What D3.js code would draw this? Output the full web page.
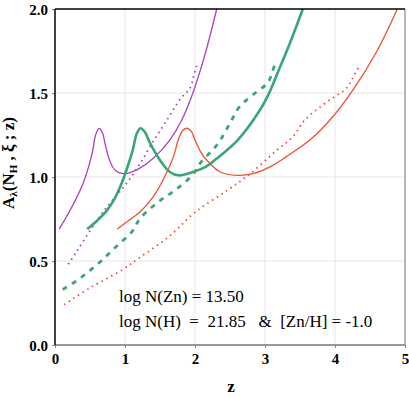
<!DOCTYPE html>
<html lang="en">
  <head>
    <meta charset="UTF-8" />
    <title>A lambda vs z</title>
    <style>
      body { margin: 0; background: #fff; }
      svg { display: block; font-family: "Liberation Serif", "Times New Roman", Times, serif; }
      .tick text { font-family: "Liberation Serif", "Times New Roman", Times, serif; font-weight: bold; font-size: 15px; fill: #000; }
      .grid line { stroke: #e6e6e6; stroke-width: 1; }
      .note { font-family: "Liberation Serif", "Times New Roman", Times, serif; font-size: 17px; fill: #000; }
      .lbl { font-family: "Liberation Serif", "Times New Roman", Times, serif; font-weight: bold; fill: #000; }
    </style>
  </head>
  <body>
    <svg width="409" height="397"></svg>

    <script src="https://d3js.org/d3.v7.min.js"></script>
    <script>
      // axis ticks
      const xTicks = [0, 1, 2, 3, 4, 5];
      const yTicks = [0, 0.5, 1, 1.5, 2];

      // curves: [z, A]
      const purpleSolid = [[0.06,0.69],[0.2,0.79],[0.3,0.87],[0.4,0.96],[0.48,1.06],[0.54,1.16],[0.58,1.25],[0.63,1.29],[0.68,1.26],[0.72,1.19],[0.78,1.1],[0.86,1.04],[1.0,1.02],[1.2,1.05],[1.4,1.11],[1.64,1.22],[1.8,1.33],[1.97,1.5],[2.15,1.74],[2.31,2.0]];
      const purpleDotted = [[0.19,0.48],[0.3,0.55],[0.5,0.68],[0.7,0.8],[0.9,0.9],[1.0,0.95],[1.2,1.07],[1.4,1.21],[1.6,1.34],[1.8,1.47],[1.93,1.53],[1.98,1.6],[2.03,1.67]];
      const greenSolid = [[0.46,0.69],[0.6,0.74],[0.74,0.8],[0.85,0.87],[0.93,0.94],[1.02,1.04],[1.11,1.16],[1.17,1.26],[1.22,1.29],[1.28,1.27],[1.36,1.2],[1.5,1.1],[1.64,1.03],[1.76,1.01],[1.97,1.03],[2.15,1.06],[2.31,1.11],[2.61,1.22],[2.93,1.4],[3.07,1.51],[3.2,1.64],[3.35,1.79],[3.54,2.0]];
      const greenDashed = [[0.11,0.33],[0.3,0.38],[0.46,0.43],[0.66,0.5],[0.86,0.58],[1.11,0.68],[1.21,0.75],[1.47,0.85],[1.71,0.92],[1.96,1.01],[2.07,1.08],[2.33,1.2],[2.5,1.32],[2.64,1.42],[2.89,1.51],[3.04,1.56],[3.1,1.62],[3.14,1.67]];
      const redSolid = [[0.89,0.69],[1.05,0.74],[1.21,0.79],[1.4,0.88],[1.6,1.03],[1.7,1.13],[1.76,1.22],[1.83,1.28],[1.89,1.29],[1.95,1.27],[2.0,1.22],[2.08,1.15],[2.17,1.1],[2.36,1.03],[2.6,1.01],[2.83,1.02],[3.07,1.06],[3.3,1.12],[3.64,1.22],[3.95,1.35],[4.26,1.52],[4.6,1.75],[4.89,2.0]];
      const redDotted = [[0.13,0.24],[0.5,0.34],[0.97,0.45],[1.21,0.52],[1.64,0.65],[2.0,0.79],[2.46,0.92],[2.79,1.02],[3.17,1.16],[3.4,1.24],[3.57,1.34],[3.93,1.46],[4.17,1.53],[4.24,1.58],[4.33,1.65]];

      const mLeft = 55, mRight = 405, mTop = 9, mBottom = 345;

      const svg = d3.select("svg");

      const x = d3.scaleLinear().domain([0, 5]).range([mLeft, mRight]);
      const y = d3.scaleLinear().domain([0, 2]).range([mBottom, mTop]);

      // gridlines
      svg.append("g").attr("class", "grid")
        .selectAll("line").data(xTicks.slice(1, -1)).enter().append("line")
        .attr("x1", d => x(d)).attr("x2", d => x(d))
        .attr("y1", mTop).attr("y2", mBottom);
      svg.append("g").attr("class", "grid")
        .selectAll("line").data(yTicks.slice(1, -1)).enter().append("line")
        .attr("y1", d => y(d)).attr("y2", d => y(d))
        .attr("x1", mLeft).attr("x2", mRight);

      // curves
      const line = d3.line().x(d => x(d[0])).y(d => y(d[1])).curve(d3.curveCatmullRom.alpha(0.5));
      const plot = svg.append("g");
      const curves = [
        { data: purpleSolid, color: "#a93fc0", width: 1.3, dash: null },
        { data: purpleDotted, color: "#a93fc0", width: 1.8, dash: "1.5,4" },
        { data: redDotted, color: "#f0502d", width: 1.8, dash: "1.5,4" },
        { data: greenDashed, color: "#3aa57a", width: 2.8, dash: "5,6" },
        { data: redSolid, color: "#f0502d", width: 1.3, dash: null },
        { data: greenSolid, color: "#3aa57a", width: 2.6, dash: null },
      ];
      svg.append("clipPath").attr("id", "clip").append("rect")
        .attr("x", mLeft).attr("y", mTop).attr("width", mRight - mLeft).attr("height", mBottom - mTop);
      plot.attr("clip-path", "url(#clip)")
        .selectAll("path").data(curves).enter().append("path")
        .attr("d", d => line(d.data))
        .attr("fill", "none")
        .attr("stroke", d => d.color)
        .attr("stroke-width", d => d.width)
        .attr("stroke-dasharray", d => d.dash);

      // axes
      const xAxis = d3.axisBottom(x).tickValues(xTicks).tickFormat(d3.format("d")).tickSize(3).tickPadding(5);
      const yAxis = d3.axisLeft(y).tickValues(yTicks).tickFormat(d3.format(".1f")).tickSize(3).tickPadding(4);
      svg.append("g").attr("transform", `translate(0,${mBottom})`).call(xAxis)
        .call(g => g.select(".domain").remove())
        .call(g => g.selectAll("line").attr("stroke", "#888"));
      svg.append("g").attr("transform", `translate(${mLeft},0)`).call(yAxis)
        .call(g => g.select(".domain").remove())
        .call(g => g.selectAll("line").attr("stroke", "#888"))
        .call(g => g.selectAll("text").attr("dy", "0.35em"));
      svg.selectAll("g").attr("font-family", null).attr("font-size", null);

      // frame
      svg.append("line").attr("x1", mLeft).attr("x2", mRight).attr("y1", mBottom).attr("y2", mBottom).attr("stroke", "#777").attr("stroke-width", 1.5);
      svg.append("line").attr("x1", mRight).attr("x2", mRight).attr("y1", mTop).attr("y2", mBottom).attr("stroke", "#888").attr("stroke-width", 1.2);
      svg.append("line").attr("x1", mLeft).attr("x2", mRight).attr("y1", mTop).attr("y2", mTop).attr("stroke", "#000").attr("stroke-width", 1.5);
      svg.append("line").attr("x1", mLeft).attr("x2", mLeft).attr("y1", mTop).attr("y2", mBottom).attr("stroke", "#000").attr("stroke-width", 1.5);

      // labels
      svg.append("text").attr("class", "lbl").attr("x", 231).attr("y", 392).attr("text-anchor", "middle")
        .style("font-size", "17px")
        .text("z");

      const yl = svg.append("text").attr("class", "lbl").attr("transform", "translate(14,163) rotate(-90)")
        .attr("text-anchor", "middle")
        .style("font-size", "17px");
      yl.append("tspan").text("A");
      yl.append("tspan").attr("dy", 3).style("font-size", "11px").text("λ");
      yl.append("tspan").attr("dy", -3).text("(N");
      yl.append("tspan").attr("dy", 3).style("font-size", "11px").text("H");
      yl.append("tspan").attr("dy", -3).attr("xml:space", "preserve").style("white-space", "pre").text(" , ξ ; z)");

      svg.append("text").attr("class", "note").attr("x", 119).attr("y", 302)
        .text("log N(Zn) = 13.50");
      svg.append("text").attr("class", "note").attr("x", 119).attr("y", 327)
        .attr("xml:space", "preserve").style("white-space", "pre")
        .text("log N(H)  =  21.85   &  [Zn/H] = -1.0");
    </script>
  </body>
</html>
